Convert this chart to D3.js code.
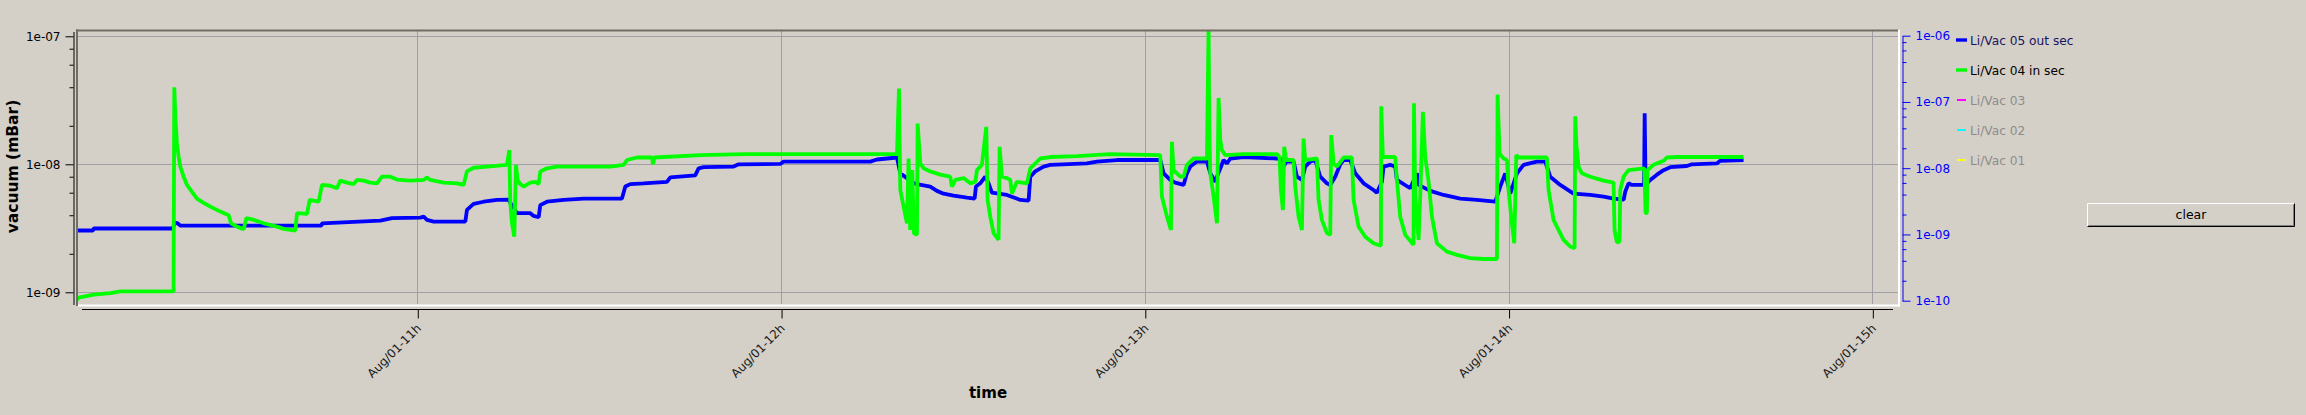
<!DOCTYPE html>
<html><head><meta charset="utf-8">
<script src="https://cdn.jsdelivr.net/npm/d3@7/dist/d3.min.js"></script>
<style>
html,body{margin:0;padding:0;background:#d4d0c8;overflow:hidden;}
svg{display:block;font-family:"DejaVu Sans",sans-serif;}
</style></head><body>
<svg id="c" width="2306" height="415"></svg>
<script>
// ---- data (time in minutes after Aug/01 10:00, vacuum in mBar) ----
const timeDomainMin = [3.87, 304.4];
const xTickMin = [60, 120, 180, 240, 300];
const xTickLabels = ["Aug/01-11h", "Aug/01-12h", "Aug/01-13h", "Aug/01-14h", "Aug/01-15h"];
const leftMajor = [1e-9, 1e-8, 1e-7];
const leftTickLabels = ["1e-09", "1e-08", "1e-07"];
const leftMinor = [2e-9, 4e-9, 6e-9, 8e-9, 2e-8, 4e-8, 6e-8, 8e-8];
const rightMajor = [1e-10, 1e-9, 1e-8, 1e-7, 1e-6];
const rightTickLabels = ["1e-10", "1e-09", "1e-08", "1e-07", "1e-06"];
const rightMinor = [2e-10,4e-10,6e-10,8e-10,2e-9,4e-9,6e-9,8e-9,2e-8,4e-8,6e-8,8e-8,2e-7,4e-7,6e-7,8e-7];
const legendLabels = ["Li/Vac 05 out sec", "Li/Vac 04 in sec", "Li/Vac 03", "Li/Vac 02", "Li/Vac 01"];
const legendActive = [true, true, false, false, false];

const liVac05 = [
[3.87,3.04e-9],[6.5,3.04e-9],[6.62,3.15e-9],[19.7,3.15e-9],[20.0,3.5e-9],[20.5,3.45e-9],[20.91,3.32e-9],[44.2,3.32e-9],[44.28,3.46e-9],
[53.9,3.63e-9],[55.82,3.8e-9],[60.5,3.83e-9],[61.05,3.9e-9],[61.6,3.68e-9],[62.7,3.57e-9],[67.92,3.57e-9],[68.19,4.4e-9],[69.29,4.9e-9],[70.94,5.1e-9],[73.14,5.27e-9],[75.07,5.3e-9],[75.34,5.0e-9],[76.44,4.15e-9],[78.64,4.15e-9],[79.19,3.95e-9],[80.02,3.86e-9],[80.29,4.8e-9],[81.39,5.1e-9],[84.14,5.27e-9],[87.44,5.4e-9],[93.76,5.4e-9],[94.31,6.7e-9],[95.14,7.0e-9],[97.33,7.1e-9],[101.18,7.3e-9],[101.73,7.9e-9],
[105.85,8.2e-9],[106.4,9.3e-9],[107.23,9.5e-9],[112.18,9.6e-9],[113.0,1.0e-8],[119.87,1.006e-8],[120.42,1.05e-8],[134.72,1.05e-8],[135.82,1.09e-8],[139.12,1.13e-8],[139.67,8.5e-9],[140.77,7.8e-9],[141.32,7.3e-9],[142.42,7.0e-9],[144.61,6.7e-9],[145.71,6.2e-9],[146.81,5.9e-9],[148.46,5.7e-9],[150.66,5.5e-9],[151.93,5.4e-9],[152.15,6.7e-9],
[152.86,7.1e-9],[153.68,8.0e-9],[154.23,7.1e-9],[154.78,6.0e-9],[157.26,5.76e-9],[159.46,5.27e-9],[160.83,5.2e-9],[161.11,8.0e-9],[161.93,8.8e-9],[163.31,9.6e-9],[164.41,9.9e-9],[170.45,1.015e-8],[172.1,1.05e-8],[175.4,1.08e-8],[182.55,1.08e-8],[183.1,8.5e-9],[184.2,7.55e-9],[185.02,7.2e-9],[186.4,6.9e-9],[186.95,8.5e-9],[187.5,9.6e-9],[188.6,1.05e-8],[190.25,1.05e-8],[190.8,8.5e-9],[191.62,7.3e-9],[191.9,8.0e-9],[193.0,1.08e-8],[193.55,1.015e-8],[194.1,1.11e-8],[196.29,1.14e-8],[201.79,1.11e-8],
[202.78,1.09e-8],[202.89,9.6e-9],[203.33,1.05e-8],[204.54,1.05e-8],[205.09,8.0e-9],[205.91,7.55e-9],[206.46,9.6e-9],[207.29,1.05e-8],[208.11,1.08e-8],[208.94,8.0e-9],[210.04,7.1e-9],[210.59,6.9e-9],[211.41,8.0e-9],[212.24,1.0e-8],[212.79,1.08e-8],[213.89,1.08e-8],[214.71,8.5e-9],[216.09,7.1e-9],[217.73,6.3e-9],[218.28,6.0e-9],[219.11,7.3e-9],[219.38,9.6e-9],[220.48,9.9e-9],[221.31,9.6e-9],[221.58,7.55e-9],[223.78,6.5e-9],[224.88,8.5e-9],[225.16,6.9e-9],[227.08,6.2e-9],[229.28,5.76e-9],[232.03,5.4e-9],[234.78,5.27e-9],[237.8,5.1e-9],[238.63,6.7e-9],[239.45,8.5e-9],[240.28,5.9e-9],[241.38,8.5e-9],[242.48,9.9e-9],[244.67,1.05e-8],[246.05,1.05e-8],[246.87,8.0e-9],[248.52,6.9e-9],[250.72,5.9e-9],
[253.47,5.76e-9],[255.67,5.6e-9],[257.32,5.4e-9],[259.0,5.3e-9],[259.24,6.1e-9],[259.79,7.1e-9],[260.34,6.9e-9],[262.35,6.9e-9],[262.45,2.5e-8],[262.6,7.1e-9],[262.82,7.1e-9],[263.37,7.55e-9],[264.47,8.3e-9],[265.57,9.0e-9],[266.67,9.5e-9],[269.41,9.7e-9],[270.24,1.0e-8],[274.36,1.015e-8],[274.91,1.065e-8],[278.76,1.08e-8]
];

const liVac04 = [
[3.87,8.7e-10],[4.14,9.1e-10],[6.62,9.6e-10],[9.37,9.86e-10],[11.02,1.015e-9],[19.8,1.015e-9],[19.92,4.0e-8],[20.09,2.35e-8],[20.36,1.45e-8],[20.64,1.14e-8],[20.91,9.6e-9],[21.46,8.0e-9],[22.01,6.9e-9],[22.84,6.1e-9],[23.66,5.4e-9],[24.76,5.0e-9],[25.86,4.67e-9],[27.51,4.27e-9],[28.89,4.0e-9],[29.27,3.46e-9],[30.26,3.26e-9],[31.36,3.11e-9],[31.8,3.8e-9],[33.01,3.68e-9],[34.66,3.46e-9],[36.86,3.26e-9],[37.96,3.13e-9],[39.06,3.07e-9],[39.88,3.04e-9],[40.16,4.15e-9],[41.81,4.1e-9],[42.25,5.27e-9],[43.73,5.1e-9],[44.28,6.9e-9],[45.66,6.8e-9],[46.75,6.5e-9],[47.3,7.46e-9],[48.4,7.2e-9],[49.5,7.0e-9],[50.05,7.55e-9],[51.15,7.46e-9],[52.25,7.2e-9],[53.35,7.1e-9],
[54.17,8.0e-9],[55.55,8.0e-9],[56.65,7.6e-9],[58.85,7.46e-9],[61.05,7.55e-9],[61.6,7.9e-9],[62.15,7.55e-9],[64.35,7.2e-9],[66.55,7.1e-9],[67.64,6.9e-9],[68.19,8.8e-9],[69.29,9.4e-9],[71.49,9.6e-9],[74.79,9.9e-9],[75.18,1.29e-8],[75.34,5.0e-9],[75.62,3.46e-9],[76.0,2.72e-9],[76.28,9.9e-9],[76.55,7.55e-9],[76.99,7.0e-9],[77.54,6.7e-9],[78.64,7.2e-9],[79.47,7.3e-9],[80.02,7.0e-9],[80.29,8.8e-9],[81.39,9.3e-9],[83.04,9.6e-9],[91.84,9.6e-9],[94.04,9.9e-9],[94.59,1.08e-8],[96.23,1.13e-8],[98.71,1.13e-8],[98.87,1.0e-8],[99.09,1.13e-8],
[106.68,1.18e-8],[113.83,1.2e-8],[139.12,1.2e-8],[139.45,3.9e-8],[139.67,6.3e-9],[140.22,4.67e-9],[140.77,3.46e-9],[141.04,1.11e-8],[141.3,3.07e-9],[141.65,9.0e-9],[141.9,2.9e-9],[142.42,2.81e-9],[142.53,2.08e-8],[142.97,1.015e-8],[143.52,9.3e-9],[144.61,8.8e-9],[146.26,8.3e-9],[147.91,8.0e-9],[148.19,6.7e-9],[148.74,7.55e-9],[150.11,7.8e-9],[151.21,7.1e-9],[152.04,7.3e-9],[152.31,9.0e-9],
[153.13,9.9e-9],[153.85,1.96e-8],[154.07,5.27e-9],[154.51,3.9e-9],[155.06,2.9e-9],[155.88,2.57e-9],[156.05,1.37e-8],[156.43,8.0e-9],[157.26,7.8e-9],[157.81,7.55e-9],[158.08,5.9e-9],[158.91,7.3e-9],[160.56,7.1e-9],[161.11,9.3e-9],[162.76,1.11e-8],[164.41,1.14e-8],[168.8,1.16e-8],[174.3,1.2e-8],[182.55,1.18e-8],[182.82,5.6e-9],[183.65,3.9e-9],[184.31,3.07e-9],[184.47,1.5e-8],[184.75,9.0e-9],[185.85,8.0e-9],[186.4,8.0e-9],[186.95,9.9e-9],[188.05,1.11e-8],[190.25,1.11e-8],[190.52,1.2e-7],[190.63,2.08e-8],[190.8,8.5e-9],[191.35,5.6e-9],[191.9,3.46e-9],[192.17,3.3e-8],[192.45,1.55e-8],[192.72,1.29e-8],[193.27,1.18e-8],[196.29,1.2e-8],[201.79,1.2e-8],
[202.23,1.14e-8],[202.45,6.3e-9],[202.78,4.4e-9],[203.0,1.37e-8],[203.33,1.08e-8],[204.54,1.08e-8],[204.81,6.7e-9],[205.36,3.9e-9],[205.91,3.07e-9],[206.19,1.59e-8],[206.46,1.08e-8],[208.39,1.11e-8],[208.66,5.27e-9],[209.21,3.68e-9],[210.04,2.9e-9],[210.59,2.81e-9],[210.75,1.69e-8],[211.14,1.015e-8],[211.69,9.6e-9],[212.79,1.13e-8],[214.16,1.13e-8],[214.44,5.27e-9],[215.26,3.26e-9],[216.36,2.72e-9],[217.73,2.42e-9],[218.94,2.31e-9],[219.0,2.84e-8],[219.27,1.14e-8],[221.31,1.14e-8],[221.58,7.55e-9],[222.13,3.9e-9],[222.96,2.81e-9],[224.33,2.35e-9],[224.4,3.0e-8],[224.61,5.6e-9],[225.16,2.57e-9],[225.43,5.6e-9],[225.87,2.57e-8],[226.26,1.14e-8],[226.81,7.3e-9],[227.36,3.9e-9],[228.18,2.42e-9],[229.83,2.08e-9],[231.48,1.96e-9],[233.68,1.85e-9],[235.88,1.82e-9],[238.08,1.82e-9],[238.19,3.5e-8],[238.52,1.21e-8],[239.18,1.11e-8],[239.73,1.08e-8],[240.0,6.3e-9],[240.55,3.46e-9],[240.94,2.42e-9],[241.27,1.18e-8],[241.65,1.13e-8],[246.32,1.13e-8],[246.6,6.3e-9],[247.42,3.68e-9],[249.07,2.57e-9],[250.17,2.28e-9],[250.89,2.21e-9],[251.0,2.37e-8],
[251.2,1.4e-8],[251.54,9.6e-9],[252.09,8.5e-9],[253.47,8.0e-9],[255.67,7.46e-9],[257.32,7.2e-9],[257.48,3.07e-9],[257.87,2.45e-9],[258.31,2.49e-9],[258.42,6.3e-9],[258.97,8.0e-9],[259.79,9.0e-9],[262.4,9.3e-9],[262.6,4.15e-9],[262.82,4.15e-9],[262.93,9.0e-9],[263.92,9.9e-9],[265.57,1.065e-8],[266.12,1.13e-8],[267.76,1.14e-8],[278.76,1.14e-8]
];

// ---- styles ----
const seriesColors = ["#0000ff", "#00ff00", "#ff00ff", "#00ffff", "#ffff00"];
const bg = "#d4d0c8", gridCol = "#a0a0a4", frameDark = "#716f64";

const t0 = new Date(2011, 7, 1, 10, 0, 0);
const toDate = m => new Date(t0.getTime() + m * 60000);

const P = {left: 77, right: 1899, top: 30, bottom: 305};
const svg = d3.select("#c");

const x = d3.scaleTime().domain(timeDomainMin.map(toDate)).range([P.left, P.right]);
const yL = d3.scaleLog().domain([1e-9, 1e-7]).range([292.3, 36.3]);
const yLaxis = yL.copy().domain([yL.invert(304.5), yL.invert(31.5)]).range([304.5, 31.5]);
const yR = d3.scaleLog().domain([1e-10, 1e-6]).range([300.7, 35.7]);

// grid
const grid = svg.append("g");
grid.selectAll("line.h").data(leftMajor).join("line")
  .attr("x1", P.left + 1).attr("x2", P.right - 1)
  .attr("y1", d => Math.round(yL(d)) + 0.5).attr("y2", d => Math.round(yL(d)) + 0.5)
  .attr("stroke", gridCol).attr("stroke-width", 1);
grid.selectAll("line.v").data(xTickMin).join("line")
  .attr("x1", d => Math.round(x(toDate(d))) + 0.5).attr("x2", d => Math.round(x(toDate(d))) + 0.5)
  .attr("y1", P.top + 1).attr("y2", P.bottom - 1)
  .attr("stroke", gridCol).attr("stroke-width", 1);

// curves
svg.append("clipPath").attr("id", "clip").append("rect")
  .attr("x", P.left + 1).attr("y", P.top + 1).attr("width", P.right - P.left - 2).attr("height", P.bottom - P.top - 2);
const line = d3.line().x(d => x(toDate(d[0]))).y(d => yL(d[1]));
const curves = svg.append("g").attr("clip-path", "url(#clip)");
[[liVac05, seriesColors[0]], [liVac04, seriesColors[1]]].forEach(([data, col]) => {
  curves.append("path").datum(data).attr("d", line)
    .attr("fill", "none").attr("stroke", col).attr("stroke-width", 3.8)
    .attr("stroke-linejoin", "bevel");
});

// frame (sunken)
svg.append("line").attr("x1", P.left - 1).attr("x2", P.right).attr("y1", P.top + 0.5).attr("y2", P.top + 0.5).attr("stroke", frameDark).attr("stroke-width", 2);
svg.append("line").attr("x1", P.left).attr("x2", P.left).attr("y1", P.top - 0.5).attr("y2", P.bottom + 1).attr("stroke", frameDark).attr("stroke-width", 2);
svg.append("line").attr("x1", P.left + 1).attr("x2", P.right + 1).attr("y1", P.bottom + 0.5).attr("y2", P.bottom + 0.5).attr("stroke", "#ffffff").attr("stroke-width", 2);
svg.append("line").attr("x1", P.right).attr("x2", P.right).attr("y1", P.top - 0.5).attr("y2", P.bottom + 1.5).attr("stroke", "#ffffff").attr("stroke-width", 2);

function styleAxis(g, col) {
  g.selectAll("path.domain").attr("stroke", col);
  g.selectAll(".tick line").attr("stroke", col);
  g.selectAll("text").attr("fill", col).attr("font-size", 12).attr("font-family", "DejaVu Sans");
  g.attr("font-family", null).attr("font-size", null);
}

// left axis
const gl = svg.append("g").attr("transform", "translate(73.5,0)")
  .call(d3.axisLeft(yLaxis).tickValues(leftMajor).tickSize(8).tickSizeOuter(0).tickPadding(5)
    .tickFormat((d, i) => leftTickLabels[i]));
styleAxis(gl, "#000");
const glm = svg.append("g").attr("transform", "translate(73.5,0)")
  .call(d3.axisLeft(yLaxis).tickValues(leftMinor).tickSize(4).tickFormat(""));
glm.select("path.domain").remove();
styleAxis(glm, "#000");

// right axis
const gr = svg.append("g").attr("transform", "translate(1902.5,0)")
  .call(d3.axisRight(yR).tickValues(rightMajor).tickSize(8).tickSizeOuter(0).tickPadding(5)
    .tickFormat((d, i) => rightTickLabels[i]));
styleAxis(gr, "#0000ff");
const grm = svg.append("g").attr("transform", "translate(1902.5,0)")
  .call(d3.axisRight(yR).tickValues(rightMinor).tickSize(4).tickFormat(""));
grm.select("path.domain").remove();
styleAxis(grm, "#0000ff");

// bottom axis
const gb = svg.append("g").attr("transform", "translate(0,309.5)")
  .call(d3.axisBottom(x).tickValues(xTickMin.map(toDate)).tickSize(9).tickSizeOuter(0)
    .tickFormat((d, i) => xTickLabels[i]));
gb.select("path.domain").remove();
gb.append("line").attr("x1", 82).attr("x2", 1893).attr("y1", 0).attr("y2", 0).attr("stroke", "#000");
styleAxis(gb, "#000");
gb.selectAll(".tick line").attr("transform", "translate(0.5,0)");
gb.selectAll(".tick text").attr("fill", "#1a1a1a")
  .attr("x", 0).attr("y", 0).attr("dy", 0).attr("text-anchor", "end")
  .attr("transform", "translate(4,19.5) rotate(-45)");

// axis titles
svg.append("text").attr("transform", "translate(18,166.5) rotate(-90)")
  .attr("text-anchor", "middle").attr("font-size", 15.5).attr("font-weight", "bold").attr("fill", "#000")
  .text("vacuum (mBar)");
svg.append("text").attr("x", 988).attr("y", 398)
  .attr("text-anchor", "middle").attr("font-size", 15).attr("font-weight", "bold").attr("fill", "#000")
  .text("time");

// legend
const lg = svg.append("g").attr("transform", "translate(1956,40)");
const items = lg.selectAll("g").data(legendLabels).join("g")
  .attr("transform", (d, i) => `translate(0,${i * 30})`);
items.append("rect")
  .attr("x", (d, i) => legendActive[i] ? 0 : 1)
  .attr("y", (d, i) => legendActive[i] ? -1.7 : -1)
  .attr("width", (d, i) => legendActive[i] ? 11 : 9)
  .attr("height", (d, i) => legendActive[i] ? 3.4 : 2)
  .attr("fill", (d, i) => seriesColors[i]);
items.append("text").attr("x", 14).attr("y", 4.5)
  .attr("font-size", 12.2)
  .attr("fill", (d, i) => i === 0 ? "#141460" : (legendActive[i] ? "#000" : "#8c8c8c"))
  .text(d => d);

// clear button
const b = svg.append("g").attr("transform", "translate(2087,203)");
b.append("rect").attr("x", 0).attr("y", 0).attr("width", 208).attr("height", 24).attr("fill", bg);
b.append("path").attr("d", "M0.5,23.5 V0.5 H207.5").attr("stroke", "#fff").attr("fill", "none");
b.append("path").attr("d", "M0.5,23.5 H207.5 V0.5").attr("stroke", "#000").attr("fill", "none");
b.append("path").attr("d", "M1.5,22.5 H206.5 V1.5").attr("stroke", "#808080").attr("fill", "none");
b.append("text").attr("x", 104).attr("y", 16).attr("text-anchor", "middle").attr("font-size", 12.5).attr("fill", "#000").text("clear");
</script>
</body></html>
